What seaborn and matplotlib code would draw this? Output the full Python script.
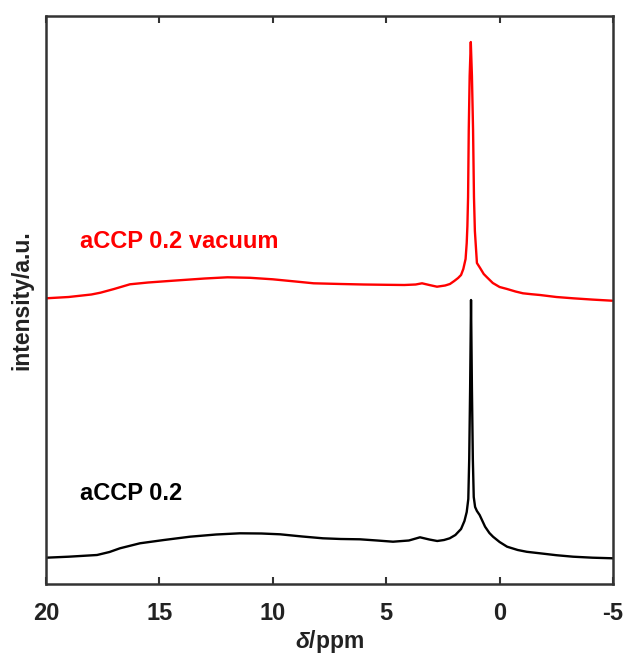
import matplotlib
matplotlib.use("Agg")
import matplotlib.pyplot as plt
import seaborn as sns
import pandas as pd

# chemical shift (ppm) and intensity (a.u.)
ppm_vac = [20.0, 19.0, 18.0, 17.6, 17.0, 16.3, 15.5, 14.4, 13.0, 12.0, 11.0, 10.0, 9.0,
           8.2, 7.0, 6.0, 5.0, 4.2, 3.7, 3.42, 3.1, 2.76, 2.4, 2.19, 2.0, 1.83, 1.7,
           1.6, 1.5, 1.45, 1.42, 1.39, 1.36, 1.32, 1.27, 1.22, 1.17, 1.13, 1.09, 1.0,
           0.86, 0.7, 0.57, 0.3, 0.0, -0.33, -0.7, -1.03, -1.4, -1.78, -2.5, -3.24,
           -4.1, -4.96]
int_vac = [2.7, 4.0, 6.5, 8.3, 12.0, 16.7, 18.5, 20.3, 22.5, 23.7, 23.2, 21.7, 19.5,
           17.7, 17.0, 16.5, 16.2, 16.0, 16.5, 17.7, 16.0, 14.3, 15.5, 17.0, 20.0, 23.0, 26.0,
           32.0, 42.0, 58.0, 75.0, 104, 171, 225, 259, 225, 171, 104, 70, 38,
           33, 27, 24, 18, 14, 12, 9.5, 7.7, 6.8, 6.0, 4.0, 2.7,
           1.4, 0.3]

ppm_ref = [20.0, 19.0, 17.75, 17.2, 16.74, 15.86, 14.8, 13.65, 12.5, 11.45, 10.5, 9.68,
           8.7, 7.79, 7.0, 6.16, 5.4, 4.7, 4.0, 3.51, 3.1, 2.75, 2.45, 2.2, 1.95, 1.7,
           1.55, 1.45, 1.38, 1.34, 1.30, 1.26, 1.22, 1.18, 1.14, 1.08, 1.0, 0.88, 0.64,
           0.45, 0.29, 0.0, -0.33, -0.8, -1.2, -1.78, -2.5, -3.24, -4.1, -5.0]
int_ref = [1.3, 2.3, 4.0, 7.0, 10.7, 15.7, 19.0, 22.3, 24.5, 25.7, 25.5, 24.7,
           22.5, 20.7, 20.0, 19.7, 18.5, 17.3, 18.5, 21.7, 19.5, 18.0, 19.0, 20.7, 24.0, 30.0,
           38.0, 47.0, 60.0, 100, 170, 259, 170, 100, 62, 52, 48, 44, 32.3,
           26.0, 22.3, 17.0, 12.3, 9.0, 7.2, 5.7, 3.8, 2.3, 1.3, 0.7]

labels = ["aCCP 0.2 vacuum", "aCCP 0.2"]
x_ticks = [20, 15, 10, 5, 0, -5]

offset_vac = 258

sns.set_theme(style="white")
plt.rcParams["font.family"] = ["Liberation Sans", "DejaVu Sans"]
plt.rcParams["mathtext.fontset"] = "custom"
plt.rcParams["mathtext.it"] = "Liberation Sans:italic:bold"
plt.rcParams["mathtext.rm"] = "Liberation Sans:bold"

fig = plt.figure(figsize=(6.26, 6.57), dpi=100)
ax = fig.add_axes([46 / 626, 1 - 584 / 657, (613 - 46) / 626, (584 - 16) / 657])

df_vac = pd.DataFrame({"ppm": ppm_vac, "y": [v + offset_vac for v in int_vac]})
df_ref = pd.DataFrame({"ppm": ppm_ref, "y": int_ref})

sns.lineplot(data=df_ref, x="ppm", y="y", ax=ax, color="black", lw=1.7, sort=False,
             solid_joinstyle="round")
sns.lineplot(data=df_vac, x="ppm", y="y", ax=ax, color="#ff0000", lw=1.7, sort=False,
             solid_joinstyle="round")

ax.set_xlim(20, -5)
ax.set_ylim(-25, 543)
ax.set_xticks(x_ticks)
ax.set_xticklabels([str(t) for t in x_ticks], fontsize=17, fontweight="bold", color="#222222")
ax.set_yticks([])
ax.tick_params(axis="x", direction="in", length=5, width=1.5, color="#333333",
               top=True, bottom=True, pad=13)
for s in ax.spines.values():
    s.set_visible(True)
    s.set_color("#333333")
    s.set_linewidth(1.8)

ax.set_xlabel(r"$\mathit{\delta}$/ppm", fontsize=16.5, fontweight="bold", color="#222222", labelpad=2)
ax.set_ylabel("intensity/a.u.", fontsize=16.5, fontweight="bold", color="#222222", labelpad=9)

ax.text(18.5, 318, labels[0], color="#ff0000", fontsize=17, fontweight="bold", va="center", ha="left")
ax.text(18.5, 65, labels[1], color="black", fontsize=17, fontweight="bold", va="center", ha="left")

fig.savefig("out.png", dpi=100)
